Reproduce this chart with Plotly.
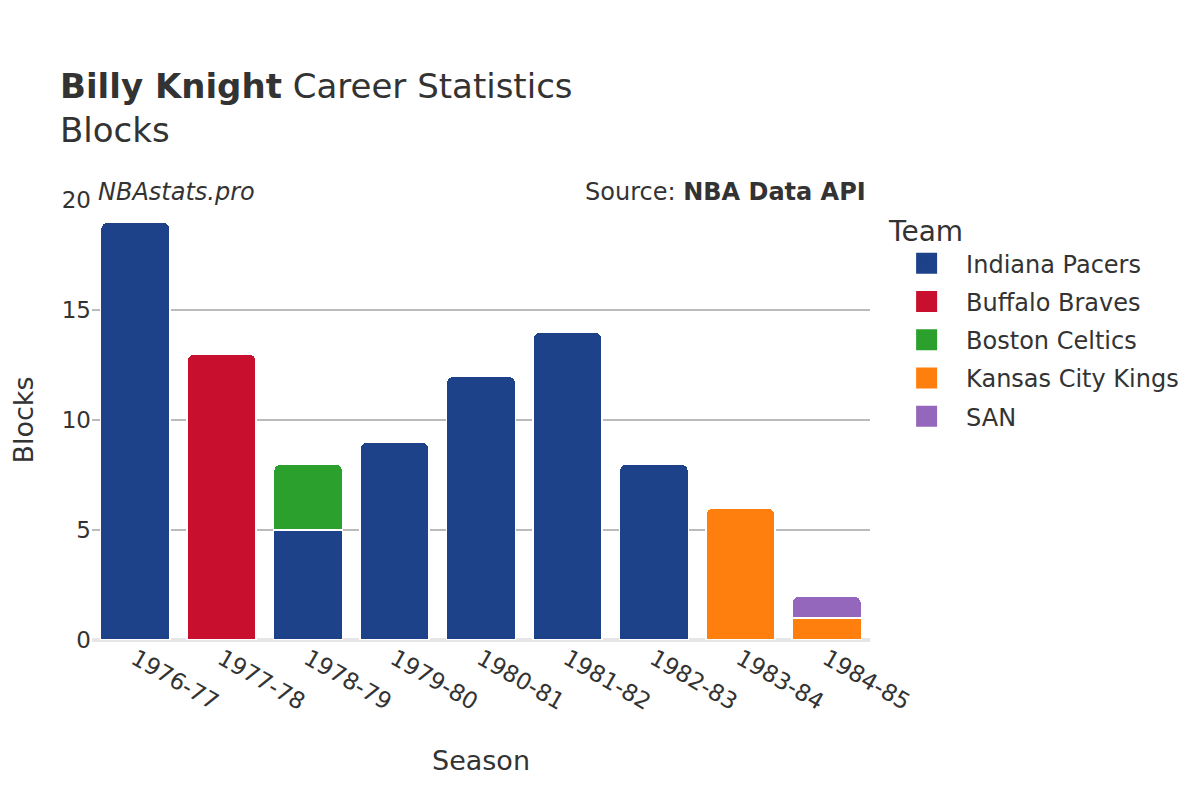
import plotly.graph_objects as go

seasons = ["1976-77", "1977-78", "1978-79", "1979-80", "1980-81", "1981-82", "1982-83", "1983-84", "1984-85"]
teams = ["Indiana Pacers", "Buffalo Braves", "Boston Celtics", "Kansas City Kings", "SAN"]
colors = ["#1d428a", "#c8102e", "#2ca02c", "#ff7f0e", "#9467bd"]
indiana = [19, None, 5, 9, 12, 14, 8, None, None]
buffalo = [None, 13, None, None, None, None, None, None, None]
boston = [None, None, 3, None, None, None, None, None, None]
kck = [None, None, None, None, None, None, None, 6, 1]
san = [None, None, None, None, None, None, None, None, 1]
values = [indiana, buffalo, boston, kck, san]

fig = go.Figure()
for name, col, vals in zip(teams, colors, values):
    fig.add_trace(go.Bar(
        x=seasons, y=vals, name=name, showlegend=False, legendgroup=name,
        marker=dict(color=col, line=dict(color="white", width=1.5)),
    ))
# legend entries (larger swatches)
for name, col in zip(teams, colors):
    fig.add_trace(go.Scatter(
        x=[None], y=[None], mode="markers", name=name, legendgroup=name,
        marker=dict(symbol="square", size=16, color=col, line=dict(color=col, width=5)),
    ))

font_family = "DejaVu Sans"
fig.update_layout(
    barmode="stack",
    barcornerradius=7,
    width=1200, height=800,
    paper_bgcolor="white", plot_bgcolor="white",
    font=dict(family=font_family, color="#333333", size=23),
    margin=dict(l=84, r=338, t=192, b=168),
    title=dict(
        text="<b>Billy Knight</b> Career Statistics<br>Blocks",
        x=52 / 1200, xanchor="left", y=1 - 90 / 800, yanchor="top",
        font=dict(size=34, color="#333333"),
    ),
    xaxis=dict(
        title=dict(text="Season", font=dict(size=27), standoff=37),
        tickangle=30, tickfont=dict(size=23), automargin=False,
        showgrid=False, showline=False,
    ),
    yaxis=dict(
        title=dict(text="Blocks", font=dict(size=27), standoff=44),
        range=[0, 20], tickvals=[0, 5, 10, 15, 20], automargin=False,
        tickfont=dict(size=23),
        showgrid=True, gridcolor="#bbbbbb", gridwidth=1.5,
        zeroline=True, zerolinecolor="#e6e6e6", zerolinewidth=4,
    ),
    legend=dict(
        title=dict(text="Team", font=dict(size=28)),
        font=dict(size=24), x=1.022, xanchor="left", y=0.989, yanchor="top",
        itemsizing="trace", itemwidth=69, tracegroupgap=4,
    ),
    bargap=0.2,
    annotations=[
        dict(text="<i>NBAstats.pro</i>", xref="paper", yref="paper", x=0.0, y=1.0,
             xanchor="left", yanchor="bottom", showarrow=False,
             font=dict(size=24, color="#333333"), xshift=4, yshift=-8),
        dict(text="Source: <b>NBA Data API</b>", xref="paper", yref="paper", x=1.0, y=1.0,
             xanchor="right", yanchor="bottom", showarrow=False,
             font=dict(size=24, color="#333333"), xshift=-2, yshift=-8),
    ],
)
fig.write_html("out.html")
